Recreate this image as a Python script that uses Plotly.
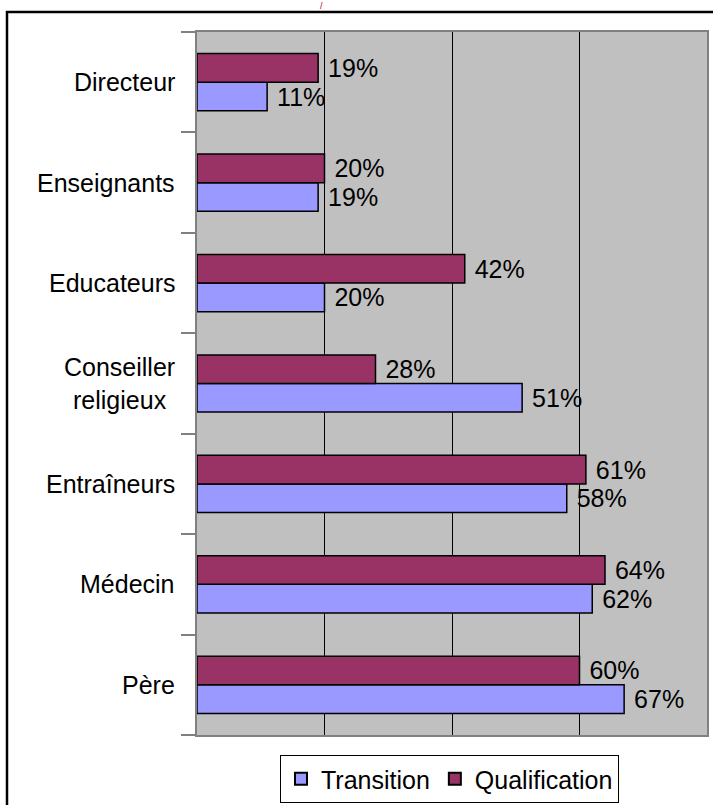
import plotly.graph_objects as go

# Categories listed bottom-to-top on the y axis
categories = ["Père", "Médecin", "Entraîneurs", "Conseiller<br>religieux",
              "Educateurs", "Enseignants", "Directeur"]
transition = [67, 62, 58, 51, 20, 19, 11]
qualification = [60, 64, 61, 28, 42, 20, 19]

W, H = 713, 805
L, R, T, B = 197, 707, 32, 735
FONT = "Liberation Sans, Arial, sans-serif"
FS = 25


def px_x(x):
    return (x - L) / (R - L)


def px_y(y):
    return (B - y) / (B - T)


fig = go.Figure()
fig.add_trace(go.Bar(
    name="Transition", y=categories, x=transition, orientation="h",
    marker=dict(color="#9999FF", line=dict(color="black", width=1.5)),
    texttemplate="\u00a0%{x}%", textposition="outside",
    textfont=dict(family=FONT, size=FS, color="black"),
    constraintext="none", cliponaxis=False,
))
fig.add_trace(go.Bar(
    name="Qualification", y=categories, x=qualification, orientation="h",
    marker=dict(color="#993366", line=dict(color="black", width=1.5)),
    texttemplate="\u00a0%{x}%", textposition="outside",
    textfont=dict(family=FONT, size=FS, color="black"),
    constraintext="none", cliponaxis=False,
))

fig.update_layout(
    width=W, height=H,
    margin=dict(l=L, r=W - R, t=T, b=H - B, pad=0, autoexpand=False),
    paper_bgcolor="white", plot_bgcolor="#C0C0C0",
    barmode="group", bargap=0.43, bargroupgap=0,
    font=dict(family=FONT, size=FS, color="black"),
    showlegend=True,
    legend=dict(
        orientation="h", x=px_x(449.5), y=px_y(755),
        xanchor="center", yanchor="top",
        bgcolor="white", bordercolor="black", borderwidth=1,
        font=dict(family=FONT, size=FS, color="black"),
        itemsizing="constant", traceorder="normal",
    ),
    xaxis=dict(
        range=[0, 80], dtick=20, showgrid=True, gridcolor="black", gridwidth=1,
        showticklabels=False, ticks="", zeroline=False,
        showline=True, linecolor="#808080", linewidth=2, mirror=True,
    ),
    yaxis=dict(
        type="category", tickson="boundaries", ticks="outside", ticklen=14,
        tickcolor="#808080", tickwidth=2, showgrid=False,
        showline=True, linecolor="#808080", linewidth=2, mirror=True,
        showticklabels=False,
    ),
)

# Category labels, centred line by line
for cat in categories:
    fig.add_annotation(text=cat, xref="paper", yref="y", x=px_x(177), y=cat,
                       xanchor="right", yanchor="middle", align="center",
                       showarrow=False,
                       font=dict(family=FONT, size=FS, color="black"))

# Outer chart frame
fig.add_shape(type="rect", xref="paper", yref="paper",
              x0=px_x(7), x1=px_x(722), y0=px_y(815), y1=px_y(12),
              line=dict(color="black", width=2.5), fillcolor="rgba(0,0,0,0)",
              layer="above")

# Fragment of the title above the frame
fig.add_annotation(text="/", xref="paper", yref="paper",
                   x=px_x(321), y=px_y(0), xanchor="center", yanchor="top",
                   showarrow=False, borderpad=0,
                   font=dict(family=FONT, size=9, color="#C00000"))

fig.write_html("out.html")
